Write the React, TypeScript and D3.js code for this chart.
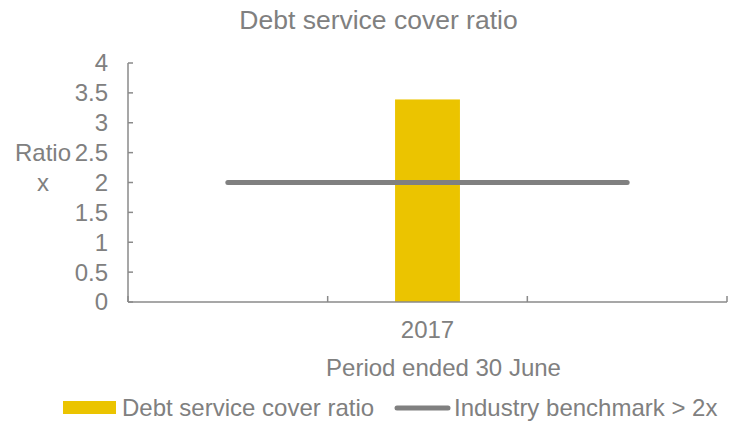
import React from "react";
import * as d3 from "d3";

const categories = ["", "2017", ""];
const ratioValues: (number | null)[] = [null, 3.39, null];
const benchmarkValues = [2, 2, 2];
const yTicks = [0, 0.5, 1, 1.5, 2, 2.5, 3, 3.5, 4];

const W = 729;
const H = 423;
const FONT = "'Liberation Sans', Arial, sans-serif";
const TEXT = "#808080";
const AXIS = "#8a8a8a";
const BAR = "#EBC400";
const LINE = "#808080";

export default function App() {
  const left = 128, right = 727, top = 63, bottom = 302;
  const x = d3.scaleBand<number>().domain(d3.range(categories.length)).range([left, right]).padding(0);
  const y = d3.scaleLinear().domain([0, 4]).range([bottom, top]);
  const bw = x.bandwidth();
  const barW = bw * 0.325;
  const line = d3
    .line<number>()
    .x((_, i) => (x(i) as number) + bw / 2)
    .y((d) => y(d));

  const boundaries = d3.range(categories.length + 1).map((i) => left + i * bw);

  return (
    <svg
      width={W}
      height={H}
      style={{ position: "absolute", left: 0, top: 0, background: "#fff" }}
      fontFamily={FONT}
    >
      <text x={378.5} y={29} textAnchor="middle" fontSize={26.5} fill={TEXT}>
        Debt service cover ratio
      </text>

      {/* bars */}
      {ratioValues.map((v, i) =>
        v == null ? null : (
          <rect
            key={i}
            x={(x(i) as number) + bw / 2 - barW / 2}
            y={y(v)}
            width={barW}
            height={y(0) - y(v)}
            fill={BAR}
          />
        )
      )}

      {/* axes */}
      <line x1={left} x2={left} y1={top} y2={bottom} stroke={AXIS} strokeWidth={1.5} />
      <line x1={left} x2={right} y1={bottom} y2={bottom} stroke={AXIS} strokeWidth={1.5} />
      {yTicks.map((t) => (
        <g key={t}>
          <line x1={left} x2={left + 5} y1={y(t)} y2={y(t)} stroke={AXIS} strokeWidth={1.5} />
          <text x={108} y={y(t)} dy="0.35em" textAnchor="end" fontSize={24} fill={TEXT}>
            {t}
          </text>
        </g>
      ))}
      {boundaries.map((b, i) => (
        <line key={i} x1={b} x2={b} y1={bottom} y2={bottom - 6} stroke={AXIS} strokeWidth={1.5} />
      ))}
      {categories.map((c, i) => (
        <text
          key={i}
          x={(x(i) as number) + bw / 2}
          y={330}
          dy="0.35em"
          textAnchor="middle"
          fontSize={24}
          fill={TEXT}
        >
          {c}
        </text>
      ))}

      {/* benchmark line */}
      <path d={line(benchmarkValues) || ""} fill="none" stroke={LINE} strokeWidth={5} strokeLinecap="round" />

      {/* axis titles */}
      <text x={443.5} y={368} dy="0.35em" textAnchor="middle" fontSize={24} fill={TEXT}>
        Period ended 30 June
      </text>
      <text x={43} y={y(2.5)} dy="0.35em" textAnchor="middle" fontSize={24} fill={TEXT}>
        Ratio
      </text>
      <text x={43} y={y(2)} dy="0.35em" textAnchor="middle" fontSize={24} fill={TEXT}>
        x
      </text>

      {/* legend */}
      <rect x={63} y={401} width={53} height={13} fill={BAR} />
      <text x={122} y={408} dy="0.35em" fontSize={24} fill={TEXT}>
        Debt service cover ratio
      </text>
      <line x1={397} x2={448} y1={408} y2={408} stroke={LINE} strokeWidth={5} strokeLinecap="round" />
      <text x={454} y={408} dy="0.35em" fontSize={24} fill={TEXT}>
        Industry benchmark &gt; 2x
      </text>
    </svg>
  );
}
